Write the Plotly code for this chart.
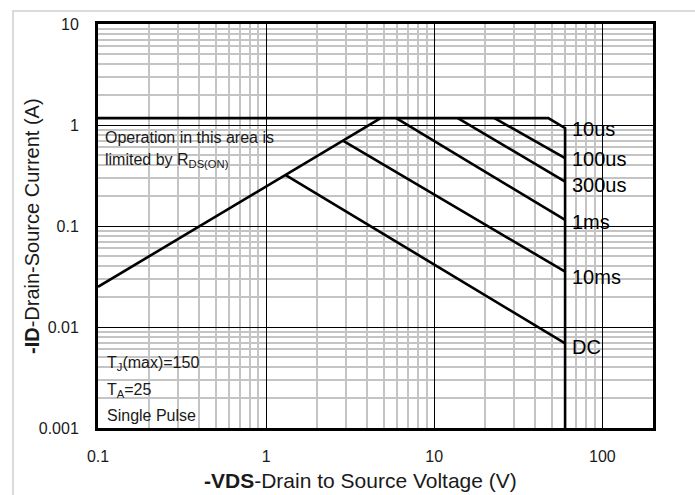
import numpy as np
import plotly.graph_objects as go

# ---- data ----
I_LIMIT = 1.17          # package current limit (A)
V_MAX = 60              # VDS max (V)

rds_v = [0.1, 4.8]
rds_i = [0.025, 1.17]

limit_v = [0.1, 47.7, 60, 60]
limit_i = [1.17, 1.17, 0.93, 0.001]

us100_v = [22.8, 60]
us100_i = [1.17, 0.47]

us300_v = [13.8, 60]
us300_i = [1.17, 0.275]

ms1_v = [5.94, 60]
ms1_i = [1.17, 0.115]

ms10_v = [2.86, 60]
ms10_i = [0.70, 0.0353]

dc_v = [1.3, 60]
dc_i = [0.32, 0.0069]

curve_labels = ["10us", "100us", "300us", "1ms", "10ms", "DC"]
curve_label_i = [0.913, 0.461, 0.255, 0.110, 0.0313, 0.00634]
curve_label_v = 64.5

x_tickvals = [0.1, 1, 10, 100]
x_ticktext = ["0.1", "1", "10", "100"]
y_tickvals = [0.001, 0.01, 0.1, 1, 10]
y_ticktext = ["0.001", "0.01", "0.1", "1", "10"]

FONT = "Liberation Sans, Arial, sans-serif"
LINE = dict(color="black", width=2.6)

fig = go.Figure()
for xs, ys in [(rds_v, rds_i), (limit_v, limit_i), (us100_v, us100_i),
               (us300_v, us300_i), (ms1_v, ms1_i), (ms10_v, ms10_i), (dc_v, dc_i)]:
    fig.add_trace(go.Scatter(x=xs, y=ys, mode="lines", line=LINE,
                             showlegend=False, hoverinfo="skip", cliponaxis=False))

x_minor = [m * 10.0 ** d for d in range(-1, 3) for m in range(2, 10) if m * 10.0 ** d <= 200]
y_minor = [m * 10.0 ** d for d in range(-3, 1) for m in range(2, 10)]

fig.update_xaxes(type="log", range=[-1, np.log10(200)],
                 tickmode="array", tickvals=x_tickvals, ticktext=x_ticktext,
                 showgrid=True, gridcolor="black", gridwidth=1.1,
                 minor=dict(tickmode="array", tickvals=x_minor, showgrid=True,
                            gridcolor="#c4c4c4", gridwidth=1.6, ticks=""),
                 showline=True, mirror=True, linecolor="black", linewidth=3,
                 ticks="", ticklabelstandoff=12,
                 tickfont=dict(family=FONT, size=16, color="#1a1a1a"),
                 zeroline=False)
fig.update_yaxes(type="log", range=[-3, 1],
                 tickmode="array", tickvals=y_tickvals, ticktext=y_ticktext,
                 showgrid=True, gridcolor="black", gridwidth=1.1,
                 minor=dict(tickmode="array", tickvals=y_minor, showgrid=True,
                            gridcolor="#c4c4c4", gridwidth=1.6, ticks=""),
                 showline=True, mirror=True, linecolor="black", linewidth=3,
                 ticks="", ticklabelstandoff=13,
                 tickfont=dict(family=FONT, size=16, color="#1a1a1a"),
                 zeroline=False)

annotations = []
# curve labels
for lab, iv in zip(curve_labels, curve_label_i):
    annotations.append(dict(x=np.log10(curve_label_v), y=np.log10(iv), xref="x", yref="y",
                            text=lab, showarrow=False, xanchor="left", yanchor="middle",
                            font=dict(family=FONT, size=20, color="black")))

def ptext(px, py, text, size=16, **kw):
    return dict(x=(px - 98) / 555, y=(428 - py) / 404, xref="paper", yref="paper",
                text=text, showarrow=False, xanchor="left", yanchor="middle",
                font=dict(family=FONT, size=size, color="#1a1a1a"), **kw)

annotations += [
    ptext(103, 137, "Operation in this area is"),
    ptext(103, 160, "limited by R<sub>DS(ON)</sub>"),
    ptext(105, 363, "T<sub>J</sub>(max)=150"),
    ptext(105, 390, "T<sub>A</sub>=25"),
    ptext(105, 415, "Single Pulse"),
]
# axis titles
annotations.append(dict(x=(360 - 98) / 555, y=(428 - 480) / 404, xref="paper", yref="paper",
                        text="<b>-VDS</b>-Drain to Source Voltage (V)", showarrow=False,
                        xanchor="center", yanchor="middle",
                        font=dict(family=FONT, size=21, color="#1a1a1a")))
annotations.append(dict(x=(32 - 98) / 555, y=0.5, xref="paper", yref="paper",
                        text="<b>-ID</b>-Drain-Source Current (A)", showarrow=False,
                        textangle=-90, xanchor="center", yanchor="middle",
                        font=dict(family=FONT, size=20, color="#1a1a1a")))

fig.update_layout(
    width=695, height=495,
    margin=dict(l=98, r=42, t=24, b=67),
    paper_bgcolor="white", plot_bgcolor="white",
    annotations=annotations,
    shapes=[dict(type="rect", xref="paper", yref="paper",
                 x0=(13 - 98) / 555, x1=(705 - 98) / 555,
                 y0=(428 - 505) / 404, y1=(428 - 11) / 404,
                 line=dict(color="#d0d0d0", width=1.5), layer="below")],
)

fig.write_html("out.html", config={"displayModeBar": False},
               post_script="document.body.style.margin='0';document.body.style.overflow='hidden';")
